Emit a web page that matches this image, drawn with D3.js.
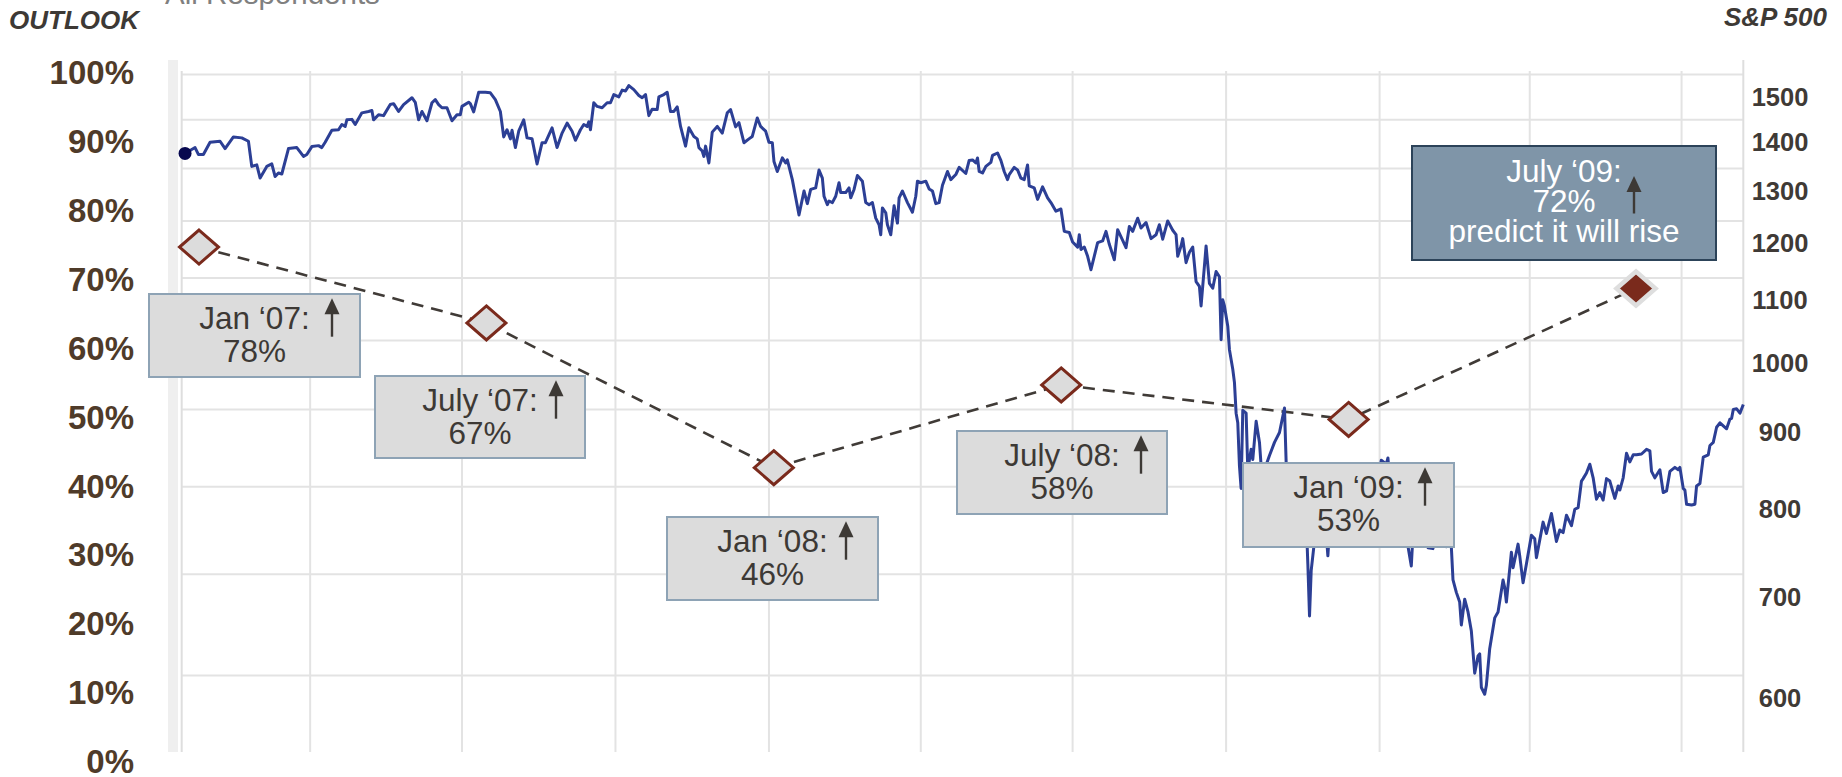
<!DOCTYPE html>
<html>
<head>
<meta charset="utf-8">
<script src="https://cdn.jsdelivr.net/npm/d3@7"></script>
<style>
  html, body { margin: 0; padding: 0; background: #ffffff; }
  svg { display: block; }
  text { font-family: "Liberation Sans", Arial, Helvetica, sans-serif; }
</style>
</head>
<body>
<svg id="chart" width="1842" height="777"></svg>
<script>
// ---- S&P 500 index: trading days counted from 14 Jan 2007, and the index level on each ----
const spxDays = [
  2,8,10,13,17,23,26,31,36,40,42,45,47,51,54,56,58,60,64,69,73,75,78,82,84,86,90,94,96,98,99,102,104,108,112,114,115,118,121,125,127,130,133,138,140,142,144,147,150,152,154,156,159,162,165,167,168,172,173,175,178,182,185,188,191,193,195,197,198,200,202,205,207,210,213,216,218,222,225,228,231,234,236,239,241,243,244,245,247,249,252,255,257,259,262,264,266,268,271,274,276,278,280,282,285,286,289,291,293,295,297,299,302,
  304,307,309,310,312,313,314,316,318,321,324,327,329,332,334,337,340,342,345,347,350,352,354,355,357,360,362,363,366,370,373,375,377,380,382,384,385,387,388,390,392,394,395,398,400,401,403,405,408,410,412,414,416,418,419,420,422,423,425,427,429,430,432,435,438,440,441,443,446,448,450,452,454,456,459,461,464,466,470,472,474,476,477,478,480,482,485,486,489,491,493,495,496,499,501,503,505,507,508,511,513,516,519,521,524,527,529,532,534,537,538,539,541,543,545,549,552,554,556,559,561,564,566,568,570,573,575,578,581,584,586,588,591,594,596,597,599,600,602,604,606,608,610,
  611,613,614,616,618,620,622,623,624,625,627,628,630,631,632,633,634,635,636,638,639,641,642,644,646,647,649,652,655,658,661,662,
  666,667,668,669,670,673,674,675,676,677,680,681,682,684,687,688,689,690,691,694,695,696,697,698,701,702,703,704,705,708,709,710,712,715,716,717,719,722,723,724,725,726,729,730,731,732,733,737,738,739,740,743,744,745,746,747,750,751,752,753,754,757,758,759,760,761,
  762,764,766,767,769,771,773,775,777,778,779,781,782,784,787,789,792,793,794,797,798,801,802,804,806,809,811,812,816,818,821,824,826,828,830,833,835,837,839,840,842,844,846,848,850,852,854,856,859,861,862,864,866,868,870,872,875,878,880,881,883,886,888,890,892,895,897,898,900,901,902,905,907,908,910,912,915,916,918,920,922,926,928,929,930,932,934,936
];
const spxValues = [
  1330,1342,1328,1328,1353,1355,1340,1364,1362,1355,1304,1307,1281,1304,1309,1284,1291,1289,1340,1342,1324,1328,1344,1346,1342,1353,1378,1379,1390,1386,1400,1401,1390,1415,1418,1420,1400,1411,1409,1433,1435,1418,1433,1448,1438,1400,1418,1398,1437,1444,1433,1426,1426,1398,1411,1411,1429,1438,1435,1417,1460,1460,1459,1444,1418,1364,1379,1360,1378,1342,1376,1400,1362,1360,1309,1352,1352,1383,1342,1372,1393,1376,1357,1379,1390,1386,1396,1379,1437,1429,1426,1437,1437,1455,1450,1465,1463,1475,1466,1453,1448,1455,1409,1423,1422,1450,1455,1460,1418,1418,1428,1386,1345,
  1383,1365,1360,1342,1335,1324,1345,1311,1374,1386,1372,1415,1422,1385,1394,1352,1360,1365,1404,1386,1376,1353,1352,1314,1294,1321,1311,1317,1278,1211,1256,1232,1259,1262,1297,1281,1246,1230,1237,1234,1246,1272,1253,1253,1262,1243,1259,1286,1275,1234,1230,1234,1205,1193,1175,1224,1215,1193,1175,1228,1196,1243,1256,1234,1216,1246,1275,1272,1275,1260,1256,1232,1234,1267,1294,1278,1288,1302,1290,1316,1317,1311,1321,1294,1291,1304,1312,1326,1331,1316,1294,1278,1288,1302,1297,1281,1278,1307,1266,1262,1240,1264,1243,1234,1218,1222,1181,1179,1162,1153,1175,1149,1153,1137,1114,1161,1164,1181,1158,1131,1184,1165,1152,1190,1181,1205,1187,1197,1168,1175,1193,1167,1200,1183,1175,1137,1155,1168,1126,1144,1153,1094,1086,
  1054,1120,1155,1091,1083,1111,1102,1001,1064,1054,1022,986,957,938,895,882,826,798,899,895,821,847,834,884,856,826,821,839,856,869,902,830,
  820,801,756,813,775,753,762,711,657,704,754,760,789,798,720,751,773,748,778,811,790,801,776,781,771,815,806,787,789,774,766,772,775,772,792,805,833,828,836,809,812,793,774,775,745,747,753,709,743,731,735,740,748,777,748,729,728,741,735,748,771,772,730,737,738,730,
  694,681,671,648,674,661,642,602,618,620,589,583,591,625,655,661,694,686,671,724,707,733,720,691,711,743,739,718,758,745,768,736,749,746,766,754,773,775,807,810,817,828,811,785,793,784,810,807,786,801,796,811,842,831,840,840,841,847,845,819,811,821,793,795,819,824,821,824,798,796,779,778,779,801,804,837,840,852,856,876,882,874,887,888,900,901,895,907
];

// ---- Outlook survey: share of respondents predicting the market will rise ----
const waves = ["Jan \u201807", "July \u201807", "Jan \u201808", "July \u201808", "Jan \u201809", "July \u201809"];
const outlookPct = [78, 67, 46, 58, 53, 72];
const latestNote = "predict it will rise";

// ---- Axis ticks ----
const outlookTicks = [0, 10, 20, 30, 40, 50, 60, 70, 80, 90, 100];
const spxTicks = [600, 700, 800, 900, 1000, 1100, 1200, 1300, 1400, 1500];
const startDate = new Date(2007, 0, 14);
const endDate = new Date(2009, 7, 7);

// ---- Layout ----
const plot = { left: 181.7, right: 1743.3, top: 71, bottom: 752 };
const textDark = "#3d3935";
const gridColor = "#e3e3e3";

// callout boxes (pixel layout), one per survey wave; ax = arrow x
const callouts = [
  { x: 149,  y: 294, w: 211, h: 83,  ax: 332 },
  { x: 375,  y: 376, w: 210, h: 82,  ax: 556 },
  { x: 667,  y: 517, w: 211, h: 83,  ax: 846 },
  { x: 957,  y: 431, w: 210, h: 83,  ax: 1141 },
  { x: 1243, y: 463, w: 211, h: 84,  ax: 1425 },
  { x: 1412, y: 146, w: 304, h: 114, ax: 1634, highlight: true }
];

const spx = spxDays.map((d, i) => ({ date: d3.timeDay.offset(startDate, d), value: spxValues[i] }));
const outlook = waves.map((w, i) => ({ wave: w, pct: outlookPct[i] }));

// ---- Scales ----
const x = d3.scaleTime().domain([startDate, endDate]).range([plot.left, plot.right]);
const yS = d3.scaleLog().domain([600, 1500]).range([675.4, 74.6]);
const yL = d3.scaleLinear().domain([0, 100]).range([784.8, 95.4]);
const xW = d3.scalePoint().domain(waves).range([199, 1636]);

const svg = d3.select("#chart");

// light band at the left edge of the plot
svg.append("rect").attr("x", 168).attr("y", 60).attr("width", 10).attr("height", plot.bottom - 60)
  .attr("fill", "#efefef");

// horizontal gridlines at the S&P levels
svg.append("g").selectAll("line").data(spxTicks).join("line")
  .attr("x1", plot.left).attr("x2", plot.right)
  .attr("y1", d => yS(d)).attr("y2", d => yS(d))
  .attr("stroke", gridColor).attr("stroke-width", 2);

// vertical gridlines at each quarter
const quarters = d3.timeMonth.every(3).range(startDate, endDate);
svg.append("g").selectAll("line").data(quarters).join("line")
  .attr("x1", d => x(d)).attr("x2", d => x(d))
  .attr("y1", plot.top).attr("y2", plot.bottom)
  .attr("stroke", gridColor).attr("stroke-width", 2);

// plot frame sides
svg.append("line").attr("x1", plot.left).attr("x2", plot.left).attr("y1", plot.top).attr("y2", plot.bottom)
  .attr("stroke", "#dedede").attr("stroke-width", 2);
svg.append("line").attr("x1", plot.right).attr("x2", plot.right).attr("y1", 60).attr("y2", plot.bottom)
  .attr("stroke", "#dedede").attr("stroke-width", 2);

// dashed connector through the survey readings
svg.append("path")
  .datum(outlook)
  .attr("d", d3.line().x(d => xW(d.wave)).y(d => yL(d.pct)))
  .attr("fill", "none").attr("stroke", "#403b37").attr("stroke-width", 2.6)
  .attr("stroke-dasharray", "12,8");

// S&P 500 line
svg.append("path")
  .datum(spx)
  .attr("d", d3.line().x(d => x(d.date)).y(d => yS(d.value)))
  .attr("fill", "none").attr("stroke", "#2c3f95").attr("stroke-width", 3)
  .attr("stroke-linejoin", "round");
svg.append("circle")
  .attr("cx", x(spx[0].date)).attr("cy", yS(spx[0].value)).attr("r", 6.5)
  .attr("fill", "#07084f");

// survey diamonds
const diamond = "M0,-17L19.5,0L0,17L-19.5,0Z";
svg.append("g").selectAll("path").data(outlook).join("path")
  .attr("d", diamond)
  .attr("transform", d => `translate(${xW(d.wave)},${yL(d.pct)})`)
  .attr("fill", (d, i) => i === outlook.length - 1 ? "#7a2a1c" : "#dcdcdc")
  .attr("stroke", (d, i) => i === outlook.length - 1 ? "#dedede" : "#7a2a1c")
  .attr("stroke-width", (d, i) => i === outlook.length - 1 ? 4.5 : 3);

// callout boxes
const cg = svg.append("g").selectAll("g").data(outlook).join("g");
cg.each(function (d, i) {
  const b = callouts[i];
  const g = d3.select(this);
  const hl = !!b.highlight;
  g.append("rect").attr("x", b.x).attr("y", b.y).attr("width", b.w).attr("height", b.h)
    .attr("fill", hl ? "#7f95a8" : "#dcdcdc")
    .attr("stroke", hl ? "#2c4359" : "#8ea3b5").attr("stroke-width", 2);
  const lines = [`${d.wave}:`, `${d.pct}%`];
  if (hl) lines.push(latestNote);
  const first = hl ? 36 : 35.3, step = hl ? 30 : 32.3;
  lines.forEach((t, k) => {
    g.append("text").attr("x", b.x + b.w / 2).attr("y", b.y + first + k * step)
      .attr("text-anchor", "middle").attr("font-size", "31.5px")
      .attr("fill", hl ? "#ffffff" : textDark).text(t);
  });
  // up arrow
  const tip = b.y + (hl ? 30 : 4.3), tail = b.y + (hl ? 67.5 : 42.7);
  g.append("line").attr("x1", b.ax).attr("x2", b.ax).attr("y1", tip + 10).attr("y2", tail)
    .attr("stroke", textDark).attr("stroke-width", 2.4);
  g.append("path").attr("d", `M${b.ax},${tip}L${b.ax + 7.5},${tip + 16}L${b.ax - 7.5},${tip + 16}Z`)
    .attr("fill", textDark);
});

// left axis: outlook percentages
svg.append("g").selectAll("text").data(outlookTicks).join("text")
  .attr("x", 134).attr("y", d => yL(d) - 23.4).attr("dy", "0.36em")
  .attr("text-anchor", "end").attr("font-size", "33px").attr("font-weight", "bold")
  .attr("fill", "#4f3b29").text(d => d + "%");

// right axis: S&P 500 levels
svg.append("g").selectAll("text").data(spxTicks).join("text")
  .attr("x", 1780).attr("y", d => yS(d) + 22).attr("dy", "0.36em")
  .attr("text-anchor", "middle").attr("font-size", "25.5px").attr("font-weight", "bold")
  .attr("fill", "#3f3a36").text(d => d);

// axis titles
svg.append("text").attr("x", 9).attr("y", 28.5).attr("font-size", "26px")
  .attr("font-weight", "bold").attr("font-style", "italic").attr("fill", textDark).text("OUTLOOK");
svg.append("text").attr("x", 1827).attr("y", 26).attr("text-anchor", "end").attr("font-size", "26px")
  .attr("font-weight", "bold").attr("font-style", "italic").attr("fill", textDark).text("S&P 500");

// subtitle, mostly above the top edge
svg.append("text").attr("x", 165).attr("y", 4).attr("font-size", "29.5px")
  .attr("fill", "#808080").text("All Respondents");
</script>
</body>
</html>
